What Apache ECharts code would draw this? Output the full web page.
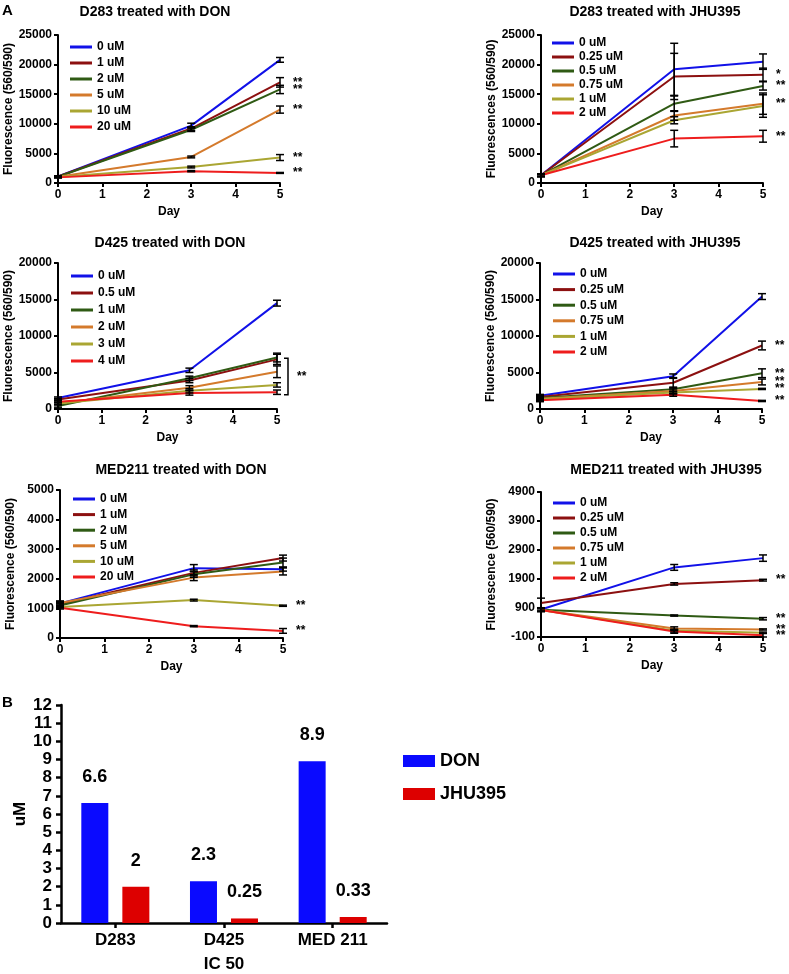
<!DOCTYPE html>
<html>
<head>
<meta charset="utf-8">
<title>Glutamine antagonists in medulloblastoma lines</title>
<script src="https://cdn.jsdelivr.net/npm/echarts@6/dist/echarts.min.js"></script>
<style>
  html, body { margin: 0; padding: 0; background: #fff; }
  #main { width: 789px; height: 974px; }
</style>
</head>
<body>
<div id="main"></div>
<script>
// sampling days (x values) and the 0..5 day axis
var days = [0, 3, 5];
var lineColors = ['#1111e8', '#8c1010', '#2f5a14', '#d47a2c', '#aaa633', '#ee1d1d'];

// D283 + DON
var d283DonDoses = ['0 uM', '1 uM', '2 uM', '5 uM', '10 uM', '20 uM'];
var d283DonMean = [
  [1100, 9700, 20800],
  [1100, 9200, 17000],
  [1050, 9000, 15800],
  [1050, 4400, 12400],
  [1000, 2700, 4300],
  [950, 2000, 1700]
];
var d283DonErr = [
  [100, 400, 400],
  [100, 300, 800],
  [100, 300, 700],
  [100, 150, 600],
  [100, 150, 500],
  [100, 100, 80]
];
var d283DonSig = ['', '**', '**', '**', '**', '**'];

// D283 + JHU395
var d283JhuDoses = ['0 uM', '0.25 uM', '0.5 uM', '0.75 uM', '1 uM', '2 uM'];
var d283JhuMean = [
  [1300, 19200, 20500],
  [1300, 18000, 18300],
  [1300, 13400, 16400],
  [1300, 11400, 13400],
  [1300, 10600, 13000],
  [1300, 7500, 7900]
];
var d283JhuErr = [
  [200, 4400, 1300],
  [200, 3900, 1100],
  [200, 1300, 700],
  [200, 800, 1800],
  [200, 600, 1900],
  [200, 1400, 1000]
];
var d283JhuSig = ['', '*', '**', '**', '', '**'];

// D425 + DON
var d425DonDoses = ['0 uM', '0.5 uM', '1 uM', '2 uM', '3 uM', '4 uM'];
var d425DonMean = [
  [1500, 5300, 14500],
  [1300, 3900, 6800],
  [400, 4200, 7050],
  [800, 2900, 5100],
  [750, 2500, 3300],
  [1000, 2200, 2300]
];
var d425DonErr = [
  [150, 300, 400],
  [150, 300, 700],
  [150, 300, 600],
  [150, 300, 800],
  [150, 300, 300],
  [150, 300, 300]
];
var d425DonSig = ['', '', '', '', '', ''];
var d425DonBracket = [[5, 6950, 1950]];

// D425 + JHU395
var d425JhuDoses = ['0 uM', '0.25 uM', '0.5 uM', '0.75 uM', '1 uM', '2 uM'];
var d425JhuMean = [
  [1800, 4500, 15400],
  [1650, 3600, 8700],
  [1500, 2700, 4900],
  [1400, 2450, 3700],
  [1350, 2250, 2750],
  [1200, 1950, 1100]
];
var d425JhuErr = [
  [200, 300, 400],
  [200, 700, 600],
  [200, 300, 600],
  [200, 300, 400],
  [200, 200, 80],
  [200, 200, 80]
];
var d425JhuSig = ['', '**', '**', '**', '**', '**'];

// MED211 + DON
var med211DonDoses = ['0 uM', '1 uM', '2 uM', '5 uM', '10 uM', '20 uM'];
var med211DonMean = [
  [1170, 2360, 2320],
  [1140, 2200, 2700],
  [1100, 2150, 2550],
  [1180, 2040, 2250],
  [1050, 1280, 1090],
  [1020, 400, 240]
];
var med211DonErr = [
  [80, 120, 60],
  [60, 100, 100],
  [60, 100, 150],
  [60, 100, 120],
  [30, 30, 20],
  [40, 20, 80]
];
var med211DonSig = ['', '', '', '', '**', '**'];

// MED211 + JHU395
var med211JhuDoses = ['0 uM', '0.25 uM', '0.5 uM', '0.75 uM', '1 uM', '2 uM'];
var med211JhuMean = [
  [850, 2300, 2620],
  [1070, 1730, 1860],
  [840, 640, 530],
  [830, 190, 160],
  [830, 120, 50],
  [830, 90, -40]
];
var med211JhuErr = [
  [60, 100, 110],
  [170, 40, 30],
  [50, 20, 40],
  [50, 60, 20],
  [50, 50, 20],
  [50, 60, 60]
];
var med211JhuSig = ['', '**', '**', '**', '', '**'];
var med211JhuTicks = [-100, 900, 1900, 2900, 3900, 4900];

// B: IC50
var cellLines = ['D283', 'D425', 'MED 211'];
var donIC50 = [6.6, 2.3, 8.9];
var jhuIC50 = [2, 0.25, 0.33];

var FONT = '"Liberation Sans", Arial, sans-serif';

var panels = [
  { id: 'p1', title: 'D283 treated with DON', doses: d283DonDoses, mean: d283DonMean, err: d283DonErr, sig: d283DonSig,
    yMax: 25000, yStep: 5000, yName: 'Fluorescence (560/590)',
    grid: { left: 58, top: 35, width: 222, height: 148 }, titlePos: [155, 5], legendPos: [70, 41, 4] },
  { id: 'p2', title: 'D283 treated with JHU395', doses: d283JhuDoses, mean: d283JhuMean, err: d283JhuErr, sig: d283JhuSig,
    yMax: 25000, yStep: 5000, yName: 'Fluorescences (560/590)',
    grid: { left: 541, top: 35, width: 222, height: 148 }, titlePos: [655, 5], legendPos: [552, 37, 2] },
  { id: 'p3', title: 'D425 treated with DON', doses: d425DonDoses, mean: d425DonMean, err: d425DonErr, sig: d425DonSig,
    yMax: 20000, yStep: 5000, yName: 'Fluorescence (560/590)', bracket: d425DonBracket,
    grid: { left: 58, top: 263, width: 219, height: 146 }, titlePos: [170, 236], legendPos: [71, 270, 5] },
  { id: 'p4', title: 'D425 treated with JHU395', doses: d425JhuDoses, mean: d425JhuMean, err: d425JhuErr, sig: d425JhuSig,
    yMax: 20000, yStep: 5000, yName: 'Fluorescence (560/590)',
    grid: { left: 540, top: 263, width: 222, height: 146 }, titlePos: [655, 236], legendPos: [553, 268, 3.6] },
  { id: 'p5', title: 'MED211 treated with DON', doses: med211DonDoses, mean: med211DonMean, err: med211DonErr, sig: med211DonSig,
    yMax: 5000, yStep: 1000, yName: 'Fluorescence (560/590)',
    grid: { left: 60, top: 490, width: 223, height: 148 }, titlePos: [181, 463], legendPos: [73, 493, 3.6] },
  { id: 'p6', title: 'MED211 treated with JHU395', doses: med211JhuDoses, mean: med211JhuMean, err: med211JhuErr, sig: med211JhuSig,
    yTicks: med211JhuTicks, yName: 'Fluorescence (560/590)',
    grid: { left: 541, top: 492, width: 222, height: 145 }, titlePos: [666, 463], legendPos: [553, 497, 3] }
];

function renderErrorBar(params, api) {
  var x = api.value(0), m = api.value(1), e = api.value(2);
  var hi = api.coord([x, m + e]);
  var lo = api.coord([x, m - e]);
  var w = 4;
  var st = { stroke: '#000', lineWidth: 1.5 };
  return {
    type: 'group',
    children: [
      { type: 'line', shape: { x1: hi[0], y1: hi[1], x2: lo[0], y2: lo[1] }, style: st },
      { type: 'line', shape: { x1: hi[0] - w, y1: hi[1], x2: hi[0] + w, y2: hi[1] }, style: st },
      { type: 'line', shape: { x1: lo[0] - w, y1: lo[1], x2: lo[0] + w, y2: lo[1] }, style: st }
    ]
  };
}

function renderBracket(params, api) {
  var top = api.coord([api.value(0), api.value(1)]);
  var bot = api.coord([api.value(0), api.value(2)]);
  var bx = top[0] + 11;
  return {
    type: 'group',
    children: [
      { type: 'polyline', shape: { points: [[bx - 4, top[1]], [bx, top[1]], [bx, bot[1]], [bx - 4, bot[1]]] },
        style: { stroke: '#000', lineWidth: 1.5, fill: null } },
      { type: 'text', x: bx + 9, y: (top[1] + bot[1]) / 2,
        style: { text: '**', font: 'bold 12px ' + FONT, fill: '#000', align: 'left', verticalAlign: 'middle' } }
    ]
  };
}

var axisBase = function () {
  return {
    axisLine: { show: true, onZero: false, lineStyle: { color: '#000', width: 2 } },
    axisTick: { show: true, length: 4, lineStyle: { color: '#000', width: 2 } },
    axisLabel: {
      color: '#000', fontWeight: 'bold', fontSize: 12, fontFamily: FONT, margin: 6,
      formatter: function (v) { return String(v); }
    },
    splitLine: { show: false },
    nameLocation: 'middle',
    nameTextStyle: { color: '#000', fontWeight: 'bold', fontSize: 12, fontFamily: FONT }
  };
};

var option = {
  animation: false,
  backgroundColor: '#fff',
  textStyle: { fontFamily: FONT },
  title: [
    { text: 'A', left: 2, top: 3, padding: 0, textStyle: { fontSize: 15, fontWeight: 'bold', color: '#000' } },
    { text: 'B', left: 2, top: 695, padding: 0, textStyle: { fontSize: 15, fontWeight: 'bold', color: '#000' } }
  ],
  legend: [],
  grid: [],
  xAxis: [],
  yAxis: [],
  series: []
};

panels.forEach(function (p, i) {
  option.grid.push(Object.assign({ outerBoundsMode: 'none', containLabel: false }, p.grid));
  option.title.push({
    text: p.title, left: p.titlePos[0], top: p.titlePos[1], textAlign: 'center', padding: 0,
    textStyle: { fontSize: 14, fontWeight: 'bold', color: '#000', fontFamily: FONT }
  });

  var xa = axisBase();
  Object.assign(xa, { gridIndex: i, type: 'value', min: 0, max: 5, interval: 1, name: 'Day', nameGap: 23 });
  option.xAxis.push(xa);

  var ya = axisBase();
  Object.assign(ya, { gridIndex: i, type: 'value', name: p.yName, nameGap: 43 });
  if (p.yTicks) {
    ya.min = p.yTicks[0];
    ya.max = p.yTicks[p.yTicks.length - 1];
    ya.axisLabel.customValues = p.yTicks;
    ya.axisTick.customValues = p.yTicks;
  } else {
    ya.min = 0;
    ya.max = p.yMax;
    ya.interval = p.yStep;
  }
  option.yAxis.push(ya);

  option.legend.push({
    orient: 'vertical',
    left: p.legendPos[0],
    top: p.legendPos[1],
    itemGap: p.legendPos[2],
    padding: 0,
    icon: 'rect',
    itemWidth: 22,
    itemHeight: 3,
    selectedMode: false,
    data: p.doses.map(function (d) { return p.id + '|' + d; }),
    formatter: function (name) { return name.split('|')[1]; },
    textStyle: { color: '#000', fontWeight: 'bold', fontSize: 12, fontFamily: FONT }
  });

  var errData = [];
  p.doses.forEach(function (dose, j) {
    var sig = p.sig[j];
    option.series.push({
      type: 'line',
      name: p.id + '|' + dose,
      xAxisIndex: i,
      yAxisIndex: i,
      data: days.map(function (d, k) { return [d, p.mean[j][k]]; }),
      symbol: 'none',
      color: lineColors[j],
      lineStyle: { color: lineColors[j], width: 2 },
      endLabel: {
        show: !!sig,
        formatter: function () { return sig; },
        distance: 13,
        color: '#000',
        fontSize: 12,
        fontWeight: 'bold'
      },
      z: 2
    });
    days.forEach(function (d, k) {
      errData.push([d, p.mean[j][k], p.err[j][k]]);
    });
  });

  option.series.push({
    type: 'custom',
    xAxisIndex: i,
    yAxisIndex: i,
    renderItem: renderErrorBar,
    data: errData,
    encode: { x: 0, y: 1 },
    silent: true,
    z: 3
  });

  if (p.bracket) {
    option.series.push({
      type: 'custom',
      xAxisIndex: i,
      yAxisIndex: i,
      renderItem: renderBracket,
      data: p.bracket,
      encode: { x: 0, y: [1, 2] },
      silent: true,
      z: 3
    });
  }
});

// panel B: IC50 bars
var bi = panels.length;
option.grid.push({ left: 61, top: 705, width: 326, height: 218, outerBoundsMode: 'none', containLabel: false });
option.xAxis.push({
  gridIndex: bi,
  type: 'category',
  data: cellLines,
  name: 'IC 50',
  nameLocation: 'middle',
  nameGap: 33,
  nameTextStyle: { color: '#000', fontWeight: 'bold', fontSize: 17, fontFamily: FONT },
  axisLine: { show: true, lineStyle: { color: '#000', width: 2.5 } },
  axisTick: { show: true, alignWithLabel: true, length: 5, lineStyle: { color: '#000', width: 2.5 } },
  axisLabel: { color: '#000', fontWeight: 'bold', fontSize: 17, fontFamily: FONT, margin: 9 },
  splitLine: { show: false }
});
option.yAxis.push({
  gridIndex: bi,
  type: 'value',
  min: 0,
  max: 12,
  interval: 1,
  name: 'uM',
  nameLocation: 'middle',
  nameGap: 32,
  nameTextStyle: { color: '#000', fontWeight: 'bold', fontSize: 17, fontFamily: FONT },
  axisLine: { show: true, lineStyle: { color: '#000', width: 2.5 } },
  axisTick: { show: true, length: 5, lineStyle: { color: '#000', width: 2.5 } },
  axisLabel: { color: '#000', fontWeight: 'bold', fontSize: 17, fontFamily: FONT, margin: 9 },
  splitLine: { show: false }
});
option.legend.push({
  orient: 'vertical',
  left: 403,
  top: 752,
  itemGap: 15,
  padding: 0,
  icon: 'rect',
  itemWidth: 32,
  itemHeight: 12,
  selectedMode: false,
  data: ['DON', 'JHU395'],
  textStyle: { color: '#000', fontWeight: 'bold', fontSize: 18, fontFamily: FONT }
});
var barLabel = { show: true, position: 'top', distance: 17, color: '#000', fontWeight: 'bold', fontSize: 18, fontFamily: FONT };
option.series.push({
  type: 'bar', name: 'DON', xAxisIndex: bi, yAxisIndex: bi, data: donIC50,
  barWidth: 27, barGap: '52%', itemStyle: { color: '#0a0aff' }, label: barLabel
});
option.series.push({
  type: 'bar', name: 'JHU395', xAxisIndex: bi, yAxisIndex: bi, data: jhuIC50,
  barWidth: 27, barGap: '52%', itemStyle: { color: '#dd0000' }, label: barLabel
});

var chart = echarts.init(document.getElementById('main'));
chart.setOption(option);
</script>
</body>
</html>
